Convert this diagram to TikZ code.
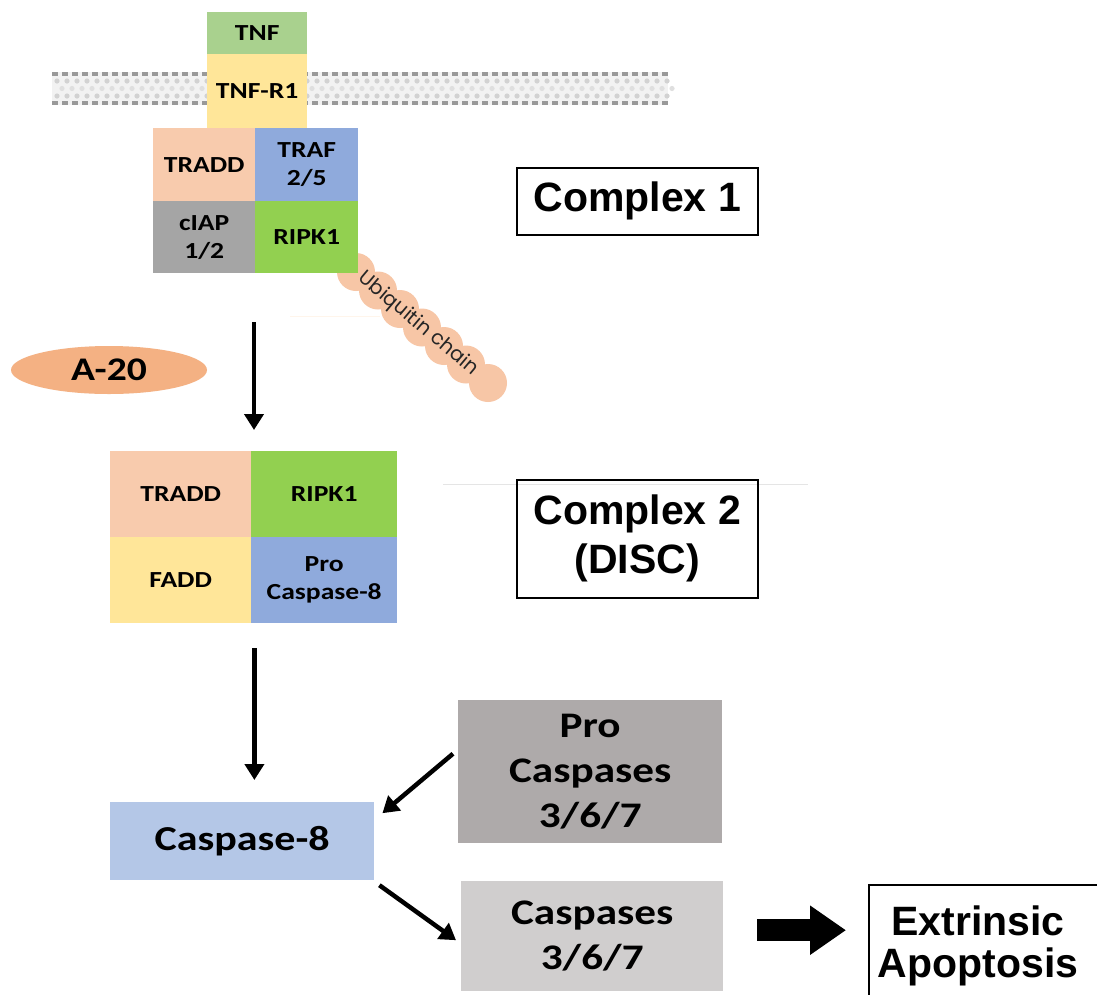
\documentclass[tikz,border=0pt]{standalone}
\usepackage{fontspec}
\setmainfont{Carlito}
\newfontfamily\boxfont[FakeStretch=1.2]{Carlito}
\newfontfamily\labfont{Liberation Sans}
\newfontfamily\ubfont{Poppins}
\usetikzlibrary{arrows.meta,calc,shapes.geometric}

\definecolor{tnfc}{HTML}{A9D18E}
\definecolor{yelc}{HTML}{FFE699}
\definecolor{traddc}{HTML}{F8CBAD}
\definecolor{trafc}{HTML}{8FAADC}
\definecolor{iapc}{HTML}{A5A5A5}
\definecolor{ripc}{HTML}{92D050}
\definecolor{a20c}{HTML}{F4B183}
\definecolor{casp8c}{HTML}{B4C7E7}
\definecolor{procc}{HTML}{AEAAAA}
\definecolor{caspc}{HTML}{D0CECE}
\definecolor{ubc}{HTML}{F7C6A6}

\tikzset{
  cell/.style={rectangle, inner sep=0pt, anchor=north west, align=center,
    font=\boxfont\bfseries\fontsize{23}{28}\selectfont},
  bigcell/.style={rectangle, inner sep=0pt, anchor=north west, align=center,
    font=\boxfont\bfseries\fontsize{36}{45}\selectfont},
  label/.style={rectangle, draw=black, line width=1.6pt, inner sep=0pt,
    anchor=north west, align=center,
    font=\labfont\bfseries\fontsize{41}{49}\selectfont},
  arr/.style={line width=4.5pt, -{Triangle[width=19pt,length=16pt]}},
  bigarr/.style={line width=22pt, -{Triangle[width=47pt,length=36pt]}},
}

\begin{document}
\begin{tikzpicture}[x=1pt,y=-1pt]
\useasboundingbox (0,0) rectangle (1097,994);
\clip (0,0) rectangle (1097,994);
\fill[white] (0,0) rectangle (1097,994);

% lipid bilayer
\fill[gray!10] (52,72) rectangle (668,105);
\foreach \i in {0,...,61}{
  \fill[gray!35] (57+10*\i,81) circle (2.6);
  \fill[gray!25] (62+10*\i,88.5) circle (2.6);
  \fill[gray!35] (57+10*\i,96) circle (2.6);
}
\draw[gray!80, line width=4pt, dash pattern=on 6pt off 4pt] (52,74) -- (668,74);
\draw[gray!80, line width=4pt, dash pattern=on 6pt off 4pt] (52,103) -- (668,103);

% faint guide strokes
\draw[orange!8, line width=1pt] (290,316) -- (380,316);
\draw[gray!20, line width=1pt] (443,484) -- (808,484);

% ubiquitin chain
\foreach \k in {0,...,6}{
  \fill[ubc] ($(356,272)!\k/6!(488,383)$) circle (19);
}
\node[font=\ubfont\fontsize{20}{24}\selectfont, text=black!85, rotate=-40, inner sep=0pt]
  (ubq) at (418,324) {Ubiquitin chain};

% receptor and complex 1
\node[cell, fill=tnfc, minimum width=100pt, minimum height=42pt] (tnf) at (207,12) {TNF};
\node[cell, fill=yelc, minimum width=100pt, minimum height=74pt] (tnfr) at (207,54) {TNF-R1};
\node[cell, fill=traddc, minimum width=102pt, minimum height=73pt] (traddA) at (153,128) {TRADD};
\node[cell, fill=trafc, minimum width=103pt, minimum height=73pt] (traf) at (255,128) {TRAF\\2/5};
\node[cell, fill=iapc, minimum width=102pt, minimum height=72pt] (ciap) at (153,201) {cIAP\\1/2};
\node[cell, fill=ripc, minimum width=103pt, minimum height=72pt] (ripkA) at (255,201) {RIPK1};

% A-20
\node[ellipse, fill=a20c, minimum width=196pt, minimum height=48pt, inner sep=0pt,
  font=\boxfont\bfseries\fontsize{33}{36}\selectfont] (a20) at (109,370) {A-20};

% complex 2
\node[cell, fill=traddc, minimum width=141pt, minimum height=86pt] (traddB) at (110,451) {TRADD};
\node[cell, fill=ripc, minimum width=146pt, minimum height=86pt] (ripkB) at (251,451) {RIPK1};
\node[cell, fill=yelc, minimum width=141pt, minimum height=86pt] (fadd) at (110,537) {FADD};
\node[cell, fill=trafc, minimum width=146pt, minimum height=86pt] (pc8) at (251,537) {Pro\\Caspase-8};

% caspases
\node[bigcell, fill=casp8c, minimum width=264pt, minimum height=78pt,
  font=\boxfont\bfseries\fontsize{35}{42}\selectfont] (casp8) at (110,802) {Caspase-8};
\node[bigcell, fill=procc, minimum width=264pt, minimum height=143pt] (procasp) at (458,700) {Pro\\Caspases\\3/6/7};
\node[bigcell, fill=caspc, minimum width=262pt, minimum height=110pt] (casps) at (461,881) {Caspases\\3/6/7};

% labels
\node[label, minimum width=241pt, minimum height=67pt] (cx1) at (516,167) {Complex 1};
\node[label, minimum width=241pt, minimum height=118pt] (cx2) at (516,479) {Complex 2\\(DISC)};
\node[rectangle, draw=black, line width=1.6pt, anchor=north west,
  minimum width=240pt, minimum height=130pt] (apop) at (868,884) {};
\node[font=\labfont\bfseries\fontsize{41}{42}\selectfont, align=center, inner sep=0pt]
  (apoptxt) at (978,946) {Extrinsic\\Apoptosis};

% connectors
\draw[arr, shorten <=49pt, shorten >=21pt]
  ([xshift=-1pt]ripkA.south west) -- ([xshift=-1pt]ripkA.south west |- traddB.north);
\draw[arr, shorten <=25pt, shorten >=22pt]
  ([xshift=3pt]fadd.south east) -- ([xshift=3pt]fadd.south east |- casp8.north);
\draw[arr] ([shift={(-5,-18)}]procasp.west) -- ([shift={(8,-28)}]casp8.east);
\draw[arr] ([shift={(5,44)}]casp8.east) -- ([shift={(-5,4)}]casps.west);
\draw[bigarr, shorten <=34pt, shorten >=22pt]
  ([yshift=6pt]casps.east) -- ([yshift=6pt]casps.east -| apop.west);
\end{tikzpicture}
\end{document}
